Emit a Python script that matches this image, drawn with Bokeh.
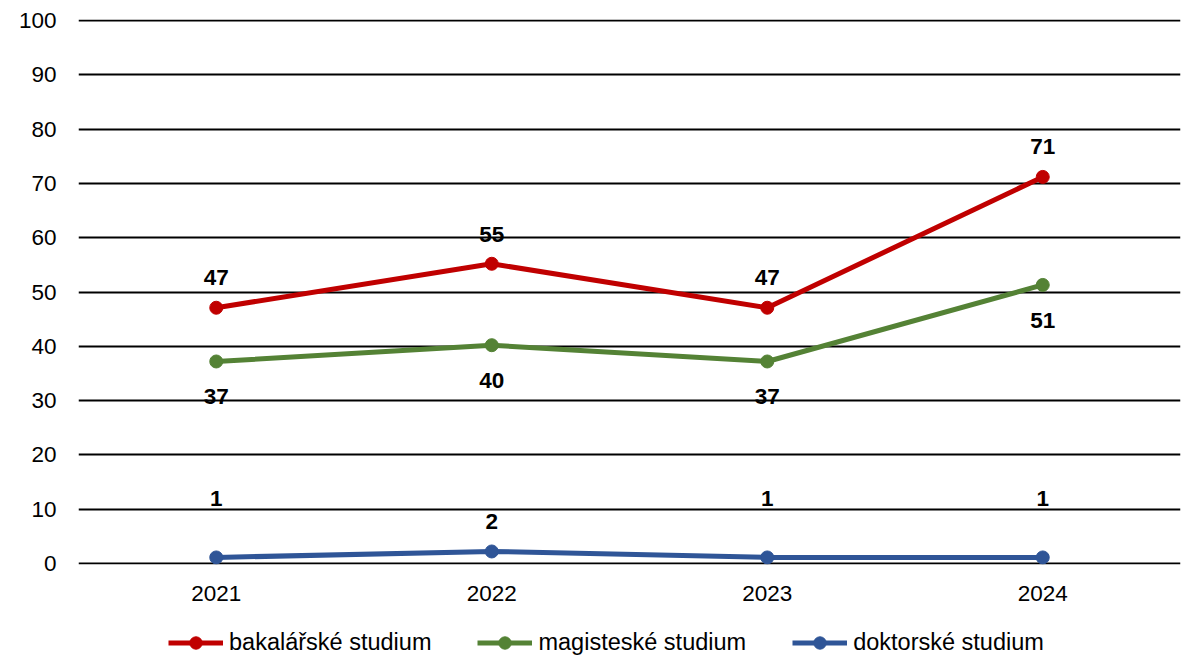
from bokeh.plotting import figure
from bokeh.layouts import column
from bokeh.models import ColumnDataSource, FixedTicker, Legend, LegendItem, FactorRange, Range1d
from bokeh.core.properties import value
from bokeh.embed import file_html
from bokeh.resources import INLINE

years = ["2021", "2022", "2023", "2024"]
bakalarske = [47.1, 55.2, 47.1, 71.2]
magisterske = [37.2, 40.2, 37.2, 51.3]
doktorske = [1.1, 2.2, 1.1, 1.1]
y_ticks = [0, 10, 20, 30, 40, 50, 60, 70, 80, 90, 100]

series_names = ["bakalářské studium", "magisteské studium", "doktorské studium"]
colors = ["#C00000", "#548235", "#2F5597"]
# label offsets in screen px (style)
label_offsets = [[-30, -29, -30, -30], [35, 35, 35, 36], [-59, -30, -59, -59]]

FONT = "Liberation Sans"
NAN = float("nan")

p = figure(x_range=FactorRange(*years, range_padding=0), y_range=Range1d(-0.2, 100.2),
           width=1187, height=620, output_backend="svg", toolbar_location=None,
           min_border_left=78, min_border_right=7, min_border_top=19, min_border_bottom=56)
p.outline_line_color = None
p.background_fill_color = "white"
p.border_fill_color = "white"

p.xgrid.grid_line_color = None
p.ygrid.grid_line_color = "black"
p.ygrid.grid_line_width = 1.8
p.yaxis.ticker = FixedTicker(ticks=y_ticks)

for ax in (p.xaxis, p.yaxis):
    ax.axis_line_color = None
    ax.major_tick_line_color = None
    ax.minor_tick_line_color = None
    ax.major_tick_out = 0
    ax.major_tick_in = 0
    ax.major_label_text_font = FONT
    ax.major_label_text_font_size = "22.5px"
    ax.major_label_text_color = "black"
p.yaxis.major_label_standoff = 22
p.xaxis.major_label_standoff = 21

items = []
for name, vals, col, offs in zip(series_names, [bakalarske, magisterske, doktorske], colors, label_offsets):
    src = ColumnDataSource(dict(x=years, y=vals, lbl=[str(round(v)) for v in vals], off=offs))
    p.line("x", "y", source=src, line_color=col, line_width=5)
    p.scatter("x", "y", source=src, size=13, fill_color=col, line_color=col)
    p.text("x", "y", text="lbl", source=src, y_offset="off", text_align="center",
           text_baseline="middle", text_font=value(FONT), text_font_style="bold",
           text_font_size="22.5px", text_color="black")

# legend strip below the chart (keys only, no data drawn here)
lg = figure(width=1187, height=38, output_backend="svg", toolbar_location=None,
            x_range=Range1d(0, 1), y_range=Range1d(0, 1),
            min_border_left=0, min_border_right=0, min_border_top=0, min_border_bottom=0)
lg.axis.visible = False
lg.grid.visible = False
lg.outline_line_color = None
for name, col in zip(series_names, colors):
    ln = lg.line(x=[NAN], y=[NAN], line_color=col, line_width=5)
    sc = lg.scatter(x=[NAN], y=[NAN], size=13, fill_color=col, line_color=col)
    items.append(LegendItem(label=name, renderers=[ln, sc]))

legend = Legend(items=items, orientation="horizontal", location=(90, 0),
                glyph_width=55, glyph_height=31, label_standoff=6, spacing=46,
                padding=0, margin=0, border_line_color=None, background_fill_alpha=0,
                label_text_font=FONT, label_text_font_size="23.5px", label_text_color="black")
lg.add_layout(legend, "center")

layout = column(p, lg, spacing=0)
open("out.html", "w").write(file_html(layout, INLINE))
